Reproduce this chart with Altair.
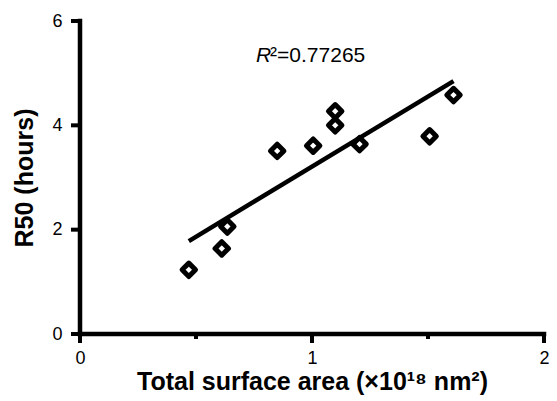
import altair as alt
import pandas as pd

# data
surface_area = [0.469, 0.611, 0.635, 0.85, 1.005, 1.10, 1.10, 1.205, 1.507, 1.61]
r50_hours = [1.23, 1.64, 2.06, 3.51, 3.61, 4.27, 4.00, 3.64, 3.79, 4.58]
x_domain = [0, 2]
y_domain = [0, 6]
x_ticks = [0, 1, 2]
x_minor_ticks = [0.5, 1.5]
y_ticks = [0, 2, 4, 6]
r2_value = "0.77265"
r2_pos = [0.759, 5.22]

FONT = "Liberation Sans"
W, H = 464, 313

df = pd.DataFrame({"x": surface_area, "y": r50_hours})
minor_df = pd.DataFrame({"x": x_minor_ticks})
xtick_df = pd.DataFrame({"x": x_ticks})
ytick_df = pd.DataFrame({"y": y_ticks})
xline_df = pd.DataFrame({"x": [x_domain[0]], "x2": [x_domain[1]], "y": [y_domain[0]]})
yline_df = pd.DataFrame({"x": [x_domain[0]], "y": [y_domain[0]], "y2": [y_domain[1]]})
lab_df = pd.DataFrame({"x": [r2_pos[0]], "y": [r2_pos[1]], "r": ["R"], "rest": ["\u00b2=" + r2_value]})

xscale = alt.Scale(domain=x_domain, nice=False, zero=False)
yscale = alt.Scale(domain=y_domain, nice=False, zero=False)

axis_style = dict(grid=False, domain=False, ticks=False,
                  labelFont=FONT, labelFontSize=18, labelColor="black",
                  titleFont=FONT, titleFontSize=25, titleFontWeight="bold", titleColor="black",
                  labelOverlap=False, labelExpr="format(datum.value, '.0f')")

xaxis = alt.Axis(values=x_ticks, title="Total surface area (×10¹⁸ nm²)",
                 labelPadding=15, titlePadding=2, labelFlush=False, **axis_style)
yaxis = alt.Axis(values=y_ticks, title="R50 (hours)",
                 labelPadding=18, titlePadding=14, **axis_style)


def X():
    return alt.X("x:Q", scale=xscale, axis=xaxis)


def Y():
    return alt.Y("y:Q", scale=yscale, axis=yaxis)


base = alt.Chart(df)

# axis lines and ticks drawn through the same scales
x_line = alt.Chart(xline_df).mark_rule(color="#000000", strokeWidth=4.5, strokeCap="square").encode(
    x=X(), x2="x2:Q", y=Y())
y_line = alt.Chart(yline_df).mark_rule(color="#000000", strokeWidth=4.5, strokeCap="square").encode(
    x=X(), y=Y(), y2="y2:Q")
x_tick_marks = alt.Chart(xtick_df).mark_rule(color="#000000", strokeWidth=4).encode(
    x=X(), y=alt.value(H), y2=alt.value(H + 9))
y_tick_marks = alt.Chart(ytick_df).mark_rule(color="#000000", strokeWidth=4).encode(
    y=Y(), x=alt.value(0), x2=alt.value(-9))
minor = alt.Chart(minor_df).mark_rule(color="#000000", strokeWidth=4).encode(
    x=X(), y=alt.value(H), y2=alt.value(H + 5))

points = base.mark_point(shape="diamond", size=180, filled=False, stroke="#000000",
                         strokeWidth=5, strokeJoin="round", opacity=1).encode(x=X(), y=Y())

line = base.transform_regression("x", "y").mark_line(color="#000000", strokeWidth=4.5).encode(x=X(), y=Y())

r_text = alt.Chart(lab_df).mark_text(font=FONT, fontSize=21, fontStyle="italic",
                                     align="left", baseline="alphabetic").encode(
    x=X(), y=Y(), text="r:N")
rest_text = alt.Chart(lab_df).mark_text(font=FONT, fontSize=21, align="left",
                                        baseline="alphabetic", dx=14).encode(
    x=X(), y=Y(), text="rest:N")

chart = alt.layer(x_line, y_line, x_tick_marks, y_tick_marks, minor,
                  line, points, r_text, rest_text).properties(
    width=W, height=H,
    padding={"left": 72, "top": 13, "right": 5, "bottom": 72},
    autosize=alt.AutoSizeParams(type="none"),
).configure_view(stroke=None)

chart.save("out.html", embed_options={"renderer": "svg", "actions": False})
